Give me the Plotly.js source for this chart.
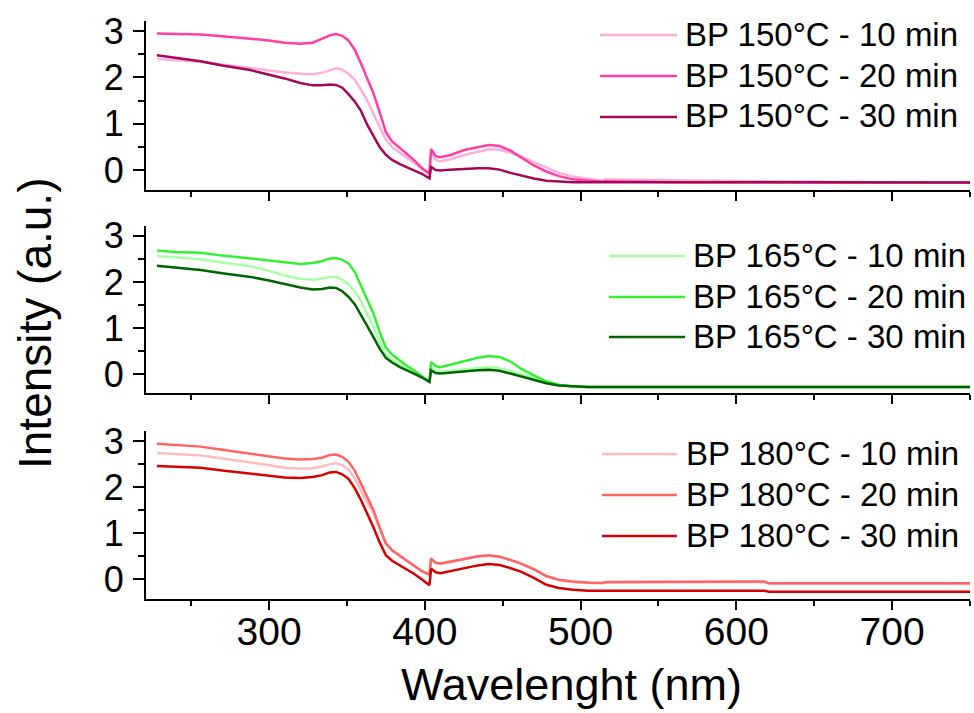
<!DOCTYPE html>
<html>
<head>
<meta charset="utf-8">
<script src="https://cdn.plot.ly/plotly-3.0.1.min.js"></script>
<style>
  html, body { margin: 0; padding: 0; background: #fff; }
  #chart { width: 974px; height: 713px; }
</style>
</head>
<body>
<div id="chart"></div>
<script>
// Wavelength grid (nm) shared by all spectra
const wavelength = [228, 240, 256, 270, 288, 300, 310, 320, 328, 334, 339, 343, 347, 351, 355, 359, 363, 367, 371, 375, 379, 384, 388, 393, 398, 403, 404, 407, 410, 416, 426, 434, 441, 448, 455, 462, 470, 478, 486, 495, 505, 514, 516, 530, 560, 590, 618, 621, 650, 700, 750];

// BP 150 °C
const bp150_10 = [2.40, 2.37, 2.34, 2.28, 2.20, 2.15, 2.11, 2.08, 2.07, 2.10, 2.16, 2.20, 2.17, 2.08, 1.95, 1.74, 1.50, 1.23, 0.93, 0.66, 0.50, 0.37, 0.28, 0.16, 0.02, -0.10, 0.36, 0.22, 0.19, 0.23, 0.33, 0.40, 0.45, 0.44, 0.38, 0.29, 0.17, 0.05, -0.06, -0.14, -0.19, -0.23, -0.20, -0.21, -0.22, -0.23, -0.24, -0.25, -0.25, -0.26, -0.26];
const bp150_20 = [2.95, 2.94, 2.93, 2.89, 2.84, 2.80, 2.75, 2.73, 2.75, 2.83, 2.91, 2.94, 2.90, 2.80, 2.60, 2.30, 1.98, 1.66, 1.25, 0.82, 0.62, 0.48, 0.36, 0.22, 0.05, -0.08, 0.46, 0.30, 0.28, 0.32, 0.44, 0.50, 0.54, 0.52, 0.42, 0.27, 0.10, -0.03, -0.13, -0.20, -0.23, -0.25, -0.24, -0.25, -0.26, -0.26, -0.26, -0.27, -0.27, -0.27, -0.27];
const bp150_30 = [2.48, 2.42, 2.35, 2.26, 2.16, 2.06, 1.98, 1.88, 1.83, 1.83, 1.85, 1.84, 1.78, 1.64, 1.48, 1.28, 0.98, 0.74, 0.50, 0.33, 0.22, 0.13, 0.07, 0.00, -0.08, -0.18, 0.07, 0.00, -0.01, 0.01, 0.03, 0.04, 0.04, 0.01, -0.06, -0.12, -0.18, -0.23, -0.25, -0.26, -0.26, -0.26, -0.26, -0.26, -0.27, -0.27, -0.27, -0.27, -0.27, -0.27, -0.27];

// BP 165 °C
const bp165_10 = [2.56, 2.53, 2.49, 2.42, 2.34, 2.24, 2.14, 2.07, 2.05, 2.07, 2.11, 2.11, 2.05, 1.95, 1.80, 1.58, 1.30, 1.03, 0.70, 0.43, 0.32, 0.21, 0.13, 0.04, -0.06, -0.16, 0.16, 0.08, 0.06, 0.08, 0.11, 0.14, 0.16, 0.14, 0.08, 0.01, -0.08, -0.17, -0.23, -0.26, -0.27, -0.27, -0.27, -0.27, -0.27, -0.27, -0.27, -0.27, -0.27, -0.27, -0.27];
const bp165_20 = [2.68, 2.65, 2.63, 2.57, 2.51, 2.46, 2.42, 2.39, 2.41, 2.45, 2.51, 2.52, 2.48, 2.40, 2.22, 1.93, 1.62, 1.32, 0.92, 0.58, 0.43, 0.30, 0.20, 0.09, -0.04, -0.16, 0.27, 0.18, 0.16, 0.21, 0.30, 0.36, 0.40, 0.38, 0.28, 0.12, -0.02, -0.15, -0.22, -0.26, -0.27, -0.27, -0.27, -0.27, -0.27, -0.27, -0.27, -0.27, -0.27, -0.27, -0.27];
const bp165_30 = [2.35, 2.31, 2.26, 2.19, 2.11, 2.03, 1.95, 1.88, 1.84, 1.85, 1.88, 1.87, 1.80, 1.68, 1.52, 1.30, 1.05, 0.81, 0.56, 0.36, 0.26, 0.16, 0.09, 0.02, -0.06, -0.16, 0.09, 0.03, 0.02, 0.04, 0.07, 0.09, 0.10, 0.08, 0.02, -0.04, -0.11, -0.19, -0.24, -0.26, -0.27, -0.27, -0.27, -0.27, -0.27, -0.27, -0.27, -0.27, -0.27, -0.27, -0.27];

// BP 180 °C
const bp180_10 = [2.74, 2.72, 2.69, 2.62, 2.54, 2.48, 2.42, 2.40, 2.41, 2.45, 2.50, 2.52, 2.48, 2.38, 2.20, 1.92, 1.66, 1.44, 1.09, 0.77, 0.62, 0.50, 0.40, 0.28, 0.17, 0.09, 0.44, 0.35, 0.33, 0.37, 0.44, 0.49, 0.51, 0.48, 0.41, 0.33, 0.21, 0.06, -0.02, -0.06, -0.08, -0.09, -0.07, -0.07, -0.07, -0.07, -0.06, -0.10, -0.10, -0.10, -0.10];
const bp180_20 = [2.94, 2.91, 2.88, 2.81, 2.73, 2.67, 2.62, 2.60, 2.61, 2.64, 2.70, 2.71, 2.66, 2.55, 2.36, 2.08, 1.80, 1.50, 1.12, 0.78, 0.63, 0.51, 0.41, 0.29, 0.18, 0.10, 0.45, 0.36, 0.34, 0.38, 0.45, 0.50, 0.52, 0.49, 0.42, 0.34, 0.22, 0.07, -0.01, -0.05, -0.07, -0.08, -0.06, -0.06, -0.06, -0.06, -0.05, -0.09, -0.09, -0.09, -0.09];
const bp180_30 = [2.46, 2.44, 2.42, 2.36, 2.29, 2.25, 2.21, 2.20, 2.22, 2.26, 2.32, 2.33, 2.28, 2.18, 1.98, 1.72, 1.43, 1.13, 0.80, 0.52, 0.40, 0.30, 0.23, 0.12, 0.00, -0.13, 0.23, 0.15, 0.13, 0.17, 0.24, 0.30, 0.33, 0.31, 0.24, 0.16, 0.03, -0.12, -0.19, -0.23, -0.25, -0.26, -0.25, -0.25, -0.25, -0.25, -0.25, -0.27, -0.27, -0.27, -0.27];

// Series names
const names150 = ['BP 150°C - 10 min', 'BP 150°C - 20 min', 'BP 150°C - 30 min'];
const names165 = ['BP 165°C - 10 min', 'BP 165°C - 20 min', 'BP 165°C - 30 min'];
const names180 = ['BP 180°C - 10 min', 'BP 180°C - 20 min', 'BP 180°C - 30 min'];

// Axis ticks
const xTickVals = [300, 400, 500, 600, 700];
const yTickVals = [0, 1, 2, 3];

// ---- styling ----
const FONT = '"Liberation Sans", Arial, Helvetica, sans-serif';
const colors150 = ['#ffb0d8', '#ff3fa5', '#a3085c'];
const colors165 = ['#a8ffa8', '#33f033', '#006400'];
const colors180 = ['#ffbcbc', '#ff6464', '#d50000'];
const LW = 2.5;

// Plot area in pixels (used to place the hand-drawn legends)
const W = 974, H = 713;
const M = { l: 146, r: 4, t: 21, b: 114 };
const PW = W - M.l - M.r, PH = H - M.t - M.b;
const px2x = px => (px - M.l) / PW;
const py2y = py => (H - M.b - py) / PH;

const panels = [
  { ys: [bp150_10, bp150_20, bp150_30], names: names150, colors: colors150, xa: 'x3', ya: 'y3',
    leg: { x0: 600, x1: 677, tx: 683, rows: [35, 76, 117] } },
  { ys: [bp165_10, bp165_20, bp165_30], names: names165, colors: colors165, xa: 'x2', ya: 'y2',
    leg: { x0: 609, x1: 685, tx: 691, rows: [256, 297, 337] } },
  { ys: [bp180_10, bp180_20, bp180_30], names: names180, colors: colors180, xa: 'x', ya: 'y',
    leg: { x0: 602, x1: 677, tx: 684, rows: [454, 495, 536] } }
];

const traces = [];
const shapes = [];
const annotations = [];

panels.forEach(p => {
  p.ys.forEach((y, i) => {
    traces.push({
      type: 'scatter', mode: 'lines',
      x: wavelength, y: y, name: p.names[i],
      xaxis: p.xa, yaxis: p.ya,
      line: { color: p.colors[i], width: LW },
      showlegend: false, hoverinfo: 'x+y+name'
    });
    // legend entry: sample line + label
    shapes.push({
      type: 'line', xref: 'paper', yref: 'paper',
      x0: px2x(p.leg.x0), x1: px2x(p.leg.x1),
      y0: py2y(p.leg.rows[i]), y1: py2y(p.leg.rows[i]),
      line: { color: p.colors[i], width: LW }
    });
    annotations.push({
      xref: 'paper', yref: 'paper',
      x: px2x(p.leg.tx), y: py2y(p.leg.rows[i] - 1),
      xanchor: 'left', yanchor: 'middle',
      text: p.names[i], showarrow: false,
      font: { family: FONT, size: 33, color: '#000' }
    });
  });
});

// axis titles
annotations.push({
  xref: 'paper', yref: 'paper', x: px2x(571), y: py2y(712),
  xanchor: 'center', yanchor: 'bottom', showarrow: false,
  text: 'Wavelenght (nm)', font: { family: FONT, size: 45, color: '#000' }
});
annotations.push({
  xref: 'paper', yref: 'paper', x: px2x(35), y: py2y(324),
  xanchor: 'center', yanchor: 'middle', showarrow: false, textangle: -90,
  text: 'Intensity (a.u.)', font: { family: FONT, size: 46, color: '#000' }
});

function xAxis(extra) {
  return Object.assign({
    range: [221, 750], domain: [0, 1],
    showline: true, linecolor: '#000', linewidth: 2,
    ticks: 'outside', ticklen: 9, tickwidth: 2, tickcolor: '#000',
    tickmode: 'array', tickvals: xTickVals,
    minor: { dtick: 50, tick0: 0, ticks: 'outside', ticklen: 5, tickwidth: 2, tickcolor: '#000', showgrid: false },
    showgrid: false, zeroline: false,
    tickfont: { family: FONT, size: 39, color: '#000' },
    ticklabelstandoff: -12
  }, extra);
}
function yAxis(range, domain, anchor) {
  return {
    range: range, domain: domain, anchor: anchor,
    showline: true, linecolor: '#000', linewidth: 2,
    ticks: 'outside', ticklen: 11, tickwidth: 2, tickcolor: '#000',
    tickmode: 'array', tickvals: yTickVals,
    minor: { dtick: 0.5, tick0: 0, ticks: 'outside', ticklen: 6, tickwidth: 2, tickcolor: '#000', showgrid: false },
    showgrid: false, zeroline: false,
    tickfont: { family: FONT, size: 36, color: '#000' },
    ticklabelstandoff: 2
  };
}

const layout = {
  width: W, height: H,
  margin: M,
  paper_bgcolor: '#fff', plot_bgcolor: '#fff',
  font: { family: FONT, color: '#000' },
  showlegend: false,
  xaxis: xAxis({ anchor: 'y' }),
  xaxis2: xAxis({ anchor: 'y2', matches: 'x', showticklabels: false }),
  xaxis3: xAxis({ anchor: 'y3', matches: 'x', showticklabels: false }),
  yaxis: yAxis([-0.43, 3.22], [0, 0.2907], 'x'),
  yaxis2: yAxis([-0.40, 3.21], [0.3564, 0.6453], 'x2'),
  yaxis3: yAxis([-0.43, 3.22], [0.7076, 1], 'x3'),
  shapes: shapes,
  annotations: annotations
};

Plotly.newPlot('chart', traces, layout, { displayModeBar: false, staticPlot: true });
</script>
</body>
</html>
